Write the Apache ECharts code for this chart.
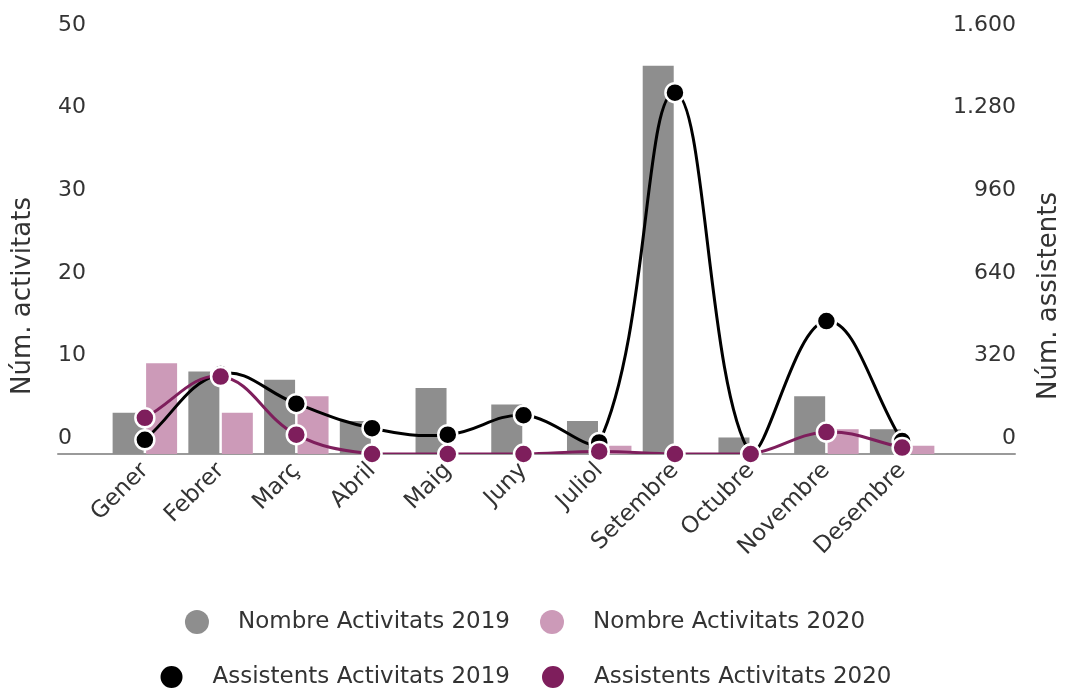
<!DOCTYPE html>
<html>
<head>
<meta charset="utf-8">
<script src="https://cdn.jsdelivr.net/npm/echarts@6/dist/echarts.min.js"></script>
<style>
html,body{margin:0;padding:0;background:#fff;}
#chart{width:1070px;height:690px;}
</style>
</head>
<body>
<div id="chart"></div>
<script>
const categories = ['Gener','Febrer','Març','Abril','Maig','Juny','Juliol','Setembre','Octubre','Novembre','Desembre'];
const act2019 = [5, 10, 9, 4, 8, 6, 4, 47, 2, 7, 3];
const act2020 = [11, 5, 7, 0, 0, 0, 1, 0, 0, 3, 1];
const ass2019 = [55, 310, 195, 100, 75, 150, 45, 1400, 0, 515, 50];
const ass2020 = [140, 300, 75, 0, 0, 0, 10, 0, 0, 85, 25];
const seriesNames = ['Nombre Activitats 2019','Nombre Activitats 2020','Assistents Activitats 2019','Assistents Activitats 2020'];
const leftTicks = {min: 0, max: 50, interval: 10};
const rightTicks = {min: 0, max: 1600, interval: 320};

const FONT = 'DejaVu Sans';
const TXT = '#333333';
const BLACK = '#000000';
const PURPLE = '#7e1e5c';
const TENSION = 0.4;
const chart = echarts.init(document.getElementById('chart'));

function fmtThousands(v){
  return String(v).replace(/\B(?=(\d{3})+(?!\d))/g, '.');
}

// tension spline (control points capped to the plot area), drawn through the axes' own coordinates
function splineCurve(id, values, color, z) {
  const n = values.length;
  return {
    id: id, type: 'custom', xAxisIndex: 0, yAxisIndex: 1, clip: true, z: z,
    data: values.map((v, i) => [i, v]),
    encode: {x: 0, y: 1},
    silent: true,
    renderItem: function (params, api) {
      const i = params.dataIndex;
      if (i >= n - 1) return {type: 'group', children: []};
      const cs = params.coordSys;
      const cap = p => [Math.max(cs.x, Math.min(cs.x + cs.width, p[0])),
                        Math.max(cs.y, Math.min(cs.y + cs.height, p[1]))];
      const pt = k => {
        const kk = Math.max(0, Math.min(n - 1, k));
        return api.coord([kk, values[kk]]);
      };
      const ctrl = k => {
        const prev = pt(k - 1), cur = pt(k), next = pt(k + 1);
        const d01 = Math.hypot(cur[0] - prev[0], cur[1] - prev[1]);
        const d12 = Math.hypot(next[0] - cur[0], next[1] - cur[1]);
        let s01 = d01 / (d01 + d12), s12 = d12 / (d01 + d12);
        if (isNaN(s01)) s01 = 0;
        if (isNaN(s12)) s12 = 0;
        const fa = TENSION * s01, fb = TENSION * s12;
        return {
          prev: cap([cur[0] - fa * (next[0] - prev[0]), cur[1] - fa * (next[1] - prev[1])]),
          next: cap([cur[0] + fb * (next[0] - prev[0]), cur[1] + fb * (next[1] - prev[1])])
        };
      };
      const p1 = pt(i), p2 = pt(i + 1);
      const c1 = ctrl(i).next, c2 = ctrl(i + 1).prev;
      return {
        type: 'bezierCurve',
        shape: {
          x1: p1[0], y1: p1[1], x2: p2[0], y2: p2[1],
          cpx1: c1[0], cpy1: c1[1], cpx2: c2[0], cpy2: c2[1]
        },
        style: {stroke: color, lineWidth: 3, fill: null}
      };
    }
  };
}

const legendBase = {
  icon: 'circle', itemWidth: 24, itemHeight: 24,
  textStyle: {fontFamily: FONT, fontSize: 23, color: TXT, padding: [0,0,0,24]},
  selectedMode: false
};

chart.setOption({
  animation: false,
  backgroundColor: '#ffffff',
  textStyle: {fontFamily: FONT},
  grid: [
    {left: 107, right: 124, top: 41, bottom: 236},
    {left: 58, right: 55, top: 41, bottom: 236}
  ],
  legend: [
    Object.assign({}, legendBase, {data: [seriesNames[0]], right: 555, top: 605}),
    Object.assign({}, legendBase, {data: [seriesNames[1]], left: 535, top: 605}),
    Object.assign({}, legendBase, {data: [seriesNames[2]], right: 555, top: 659}),
    Object.assign({}, legendBase, {data: [seriesNames[3]], left: 535, top: 659})
  ],
  xAxis: [
    {
      type: 'category', gridIndex: 0, data: categories, boundaryGap: true,
      axisLine: {show: false}, axisTick: {show: false},
      axisLabel: {rotate: 45, fontSize: 23, color: TXT, fontFamily: FONT, margin: 13, interval: 0}
    },
    {
      type: 'value', gridIndex: 1, min: 0, max: 1,
      axisLine: {show: true, onZero: false, lineStyle: {color: '#9a9a9a', width: 2}},
      axisTick: {show: false}, axisLabel: {show: false}, splitLine: {show: false}
    }
  ],
  yAxis: [
    {
      type: 'value', gridIndex: 0, position: 'left', offset: 49,
      min: leftTicks.min, max: leftTicks.max, interval: leftTicks.interval,
      name: 'Núm. activitats', nameLocation: 'middle', nameRotate: 90, nameGap: 22,
      nameTextStyle: {fontSize: 26, color: TXT, fontFamily: FONT, padding: [0, 97, 0, 0]},
      axisLine: {show: false}, axisTick: {show: false}, splitLine: {show: false},
      axisLabel: {align: 'left', margin: 0, fontSize: 22, color: TXT, fontFamily: FONT,
                  verticalAlign: 'bottom', lineHeight: 32}
    },
    {
      type: 'value', gridIndex: 0, position: 'right', offset: 69,
      min: rightTicks.min, max: rightTicks.max, interval: rightTicks.interval,
      name: 'Núm. assistents', nameLocation: 'middle', nameRotate: 90, nameGap: 27,
      nameTextStyle: {fontSize: 26, color: TXT, fontFamily: FONT, padding: [0, 97, 0, 0]},
      axisLine: {show: false}, axisTick: {show: false}, splitLine: {show: false},
      axisLabel: {align: 'right', margin: 7, fontSize: 22, color: TXT, fontFamily: FONT,
                  verticalAlign: 'bottom', lineHeight: 32,
                  formatter: fmtThousands}
    },
    {
      type: 'value', gridIndex: 1, show: false, min: 0, max: 1
    }
  ],
  series: [
    {
      name: seriesNames[0], type: 'bar', xAxisIndex: 0, yAxisIndex: 0, z: 2,
      data: act2019, barWidth: 31, barGap: '8%',
      itemStyle: {color: '#8e8e8e'}
    },
    {
      name: seriesNames[1], type: 'bar', xAxisIndex: 0, yAxisIndex: 0, z: 2,
      data: act2020, barWidth: 31, barGap: '8%',
      itemStyle: {color: '#cc9ab8'}
    },
    splineCurve('curve2019', ass2019, BLACK, 3),
    {
      name: seriesNames[2], type: 'line', xAxisIndex: 0, yAxisIndex: 1, z: 4,
      data: ass2019, symbol: 'circle', symbolSize: 19,
      lineStyle: {color: BLACK, width: 3, opacity: 0},
      itemStyle: {color: BLACK, borderColor: '#ffffff', borderWidth: 2.5}
    },
    splineCurve('curve2020', ass2020, PURPLE, 5),
    {
      name: seriesNames[3], type: 'line', xAxisIndex: 0, yAxisIndex: 1, z: 6,
      data: ass2020, symbol: 'circle', symbolSize: 19,
      lineStyle: {color: PURPLE, width: 3, opacity: 0},
      itemStyle: {color: PURPLE, borderColor: '#ffffff', borderWidth: 2.5}
    }
  ]
});
</script>
</body>
</html>
